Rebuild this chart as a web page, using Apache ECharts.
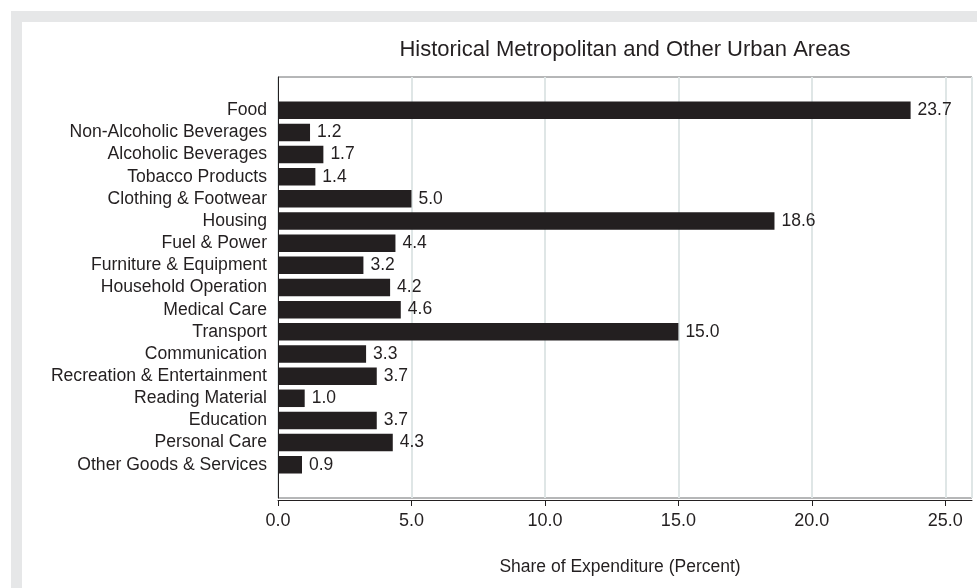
<!DOCTYPE html>
<html>
<head>
<meta charset="utf-8">
<script src="https://cdn.jsdelivr.net/npm/echarts@6/dist/echarts.min.js"></script>
<style>
  html, body { margin: 0; padding: 0; background: #fff; }
  #frame { position: absolute; left: 11px; top: 11px; width: 966px; height: 577px; background: #e6e7e8; }
  #chart { position: absolute; left: 22px; top: 22px; width: 955px; height: 566px; background: #fff; }
</style>
</head>
<body>
<div id="frame"></div>
<div id="chart"></div>
<script>
var categories = [
  "Food", "Non-Alcoholic Beverages", "Alcoholic Beverages", "Tobacco Products",
  "Clothing & Footwear", "Housing", "Fuel & Power", "Furniture & Equipment",
  "Household Operation", "Medical Care", "Transport", "Communication",
  "Recreation & Entertainment", "Reading Material", "Education",
  "Personal Care", "Other Goods & Services"
];
var shares = [23.7, 1.2, 1.7, 1.4, 5.0, 18.6, 4.4, 3.2, 4.2, 4.6, 15.0, 3.3, 3.7, 1.0, 3.7, 4.3, 0.9];
var xTicks = [0, 5, 10, 15, 20, 25];

// one empty band above and below, as in the original layout
var yData = [""].concat(categories, [""]);
var yValues = [null].concat(shares, [null]);

var chart = echarts.init(document.getElementById("chart"));
var option = {
  animation: false,
  textStyle: { fontFamily: "Liberation Sans, Arial, sans-serif", color: "#231f20" },
  title: {
    text: "Historical Metropolitan and Other Urban Areas",
    left: 598,
    top: 12,
    textAlign: "center",
    textStyle: { fontSize: 22, fontWeight: "normal", color: "#231f20" }
  },
  grid: {
    left: 256,
    right: 5,
    top: 55,
    bottom: 90,
    show: true,
    borderColor: "#6d6e71",
    borderWidth: 1
  },
  xAxis: {
    type: "value",
    min: 0,
    max: 26,
    interval: 5,
    offset: 2,
    name: "Share of Expenditure (Percent)",
    nameLocation: "middle",
    nameGap: 58,
    nameTextStyle: { fontSize: 17.5, color: "#231f20", padding: [0, 10, 0, 0] },
    axisLine: { show: true, lineStyle: { color: "#231f20", width: 1 } },
    axisTick: { show: true, length: 6, lineStyle: { color: "#231f20" } },
    axisLabel: {
      fontSize: 18,
      color: "#231f20",
      margin: 12,
      showMaxLabel: false,
      formatter: function (v) {
        return xTicks.indexOf(v) >= 0 ? v.toFixed(1) : "";
      }
    },
    splitLine: { show: true, lineStyle: { color: "#dfe6e6", width: 2 } }
  },
  yAxis: {
    type: "category",
    data: yData,
    inverse: true,
    axisLine: { show: true, lineStyle: { color: "#231f20", width: 1 } },
    axisTick: { show: false },
    axisLabel: { fontSize: 17.6, color: "#231f20", margin: 11, interval: 0 },
    splitLine: { show: false }
  },
  series: [{
    type: "bar",
    data: yValues,
    barWidth: "79%",
    itemStyle: { color: "#231f20" },
    label: {
      show: true,
      position: "right",
      distance: 7,
      fontSize: 17.5,
      color: "#231f20",
      formatter: function (p) { return p.value.toFixed(1); }
    }
  }]
};
chart.setOption(option);
</script>
</body>
</html>
